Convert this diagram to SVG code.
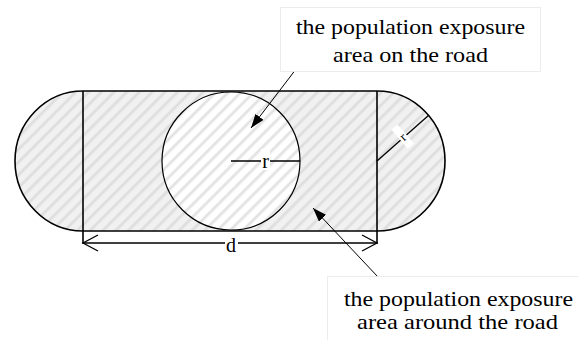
<svg xmlns="http://www.w3.org/2000/svg" width="578" height="340" viewBox="0 0 578 340">
<style>
.txt{font-family:"Liberation Serif","DejaVu Serif",serif;fill:#000;}
.lbl{font-size:21px;text-anchor:middle;}
.ln{stroke:#000;fill:none;}
.box{fill:#fff;stroke:#ececec;stroke-width:1;}
</style>
<defs>
<pattern id="hatchGray" patternUnits="userSpaceOnUse" width="9" height="9" patternTransform="rotate(-45)">
<rect width="9" height="9" fill="#f1f1f1"/>
<rect x="0" y="0" width="9" height="3.4" fill="#e6e6e6"/>
<rect x="0" y="0.9" width="9" height="1.6" fill="#dcdcdc"/>
</pattern>
<pattern id="hatchWhite" patternUnits="userSpaceOnUse" width="9" height="9" patternTransform="rotate(-45)">
<rect width="9" height="9" fill="#ffffff"/>
<rect x="0" y="0" width="9" height="3.4" fill="#eeeeee"/>
<rect x="0" y="0.9" width="9" height="1.6" fill="#e0e0e0"/>
</pattern>
<marker id="arrowFill" markerWidth="14" markerHeight="10" refX="14" refY="5" orient="auto" markerUnits="userSpaceOnUse">
<path d="M0,0 L14,5 L0,10 Z" fill="#000"/>
</marker>
</defs>

<g id="road-surround">
<path d="M83,91 H377 A68,70 0 0 1 377,231 H83 A68,70 0 0 1 83,91 Z" fill="url(#hatchGray)" stroke="#000" stroke-width="1.6"/>
</g>

<g id="road-circle">
<circle cx="231" cy="161" r="69" fill="url(#hatchWhite)" stroke="#000" stroke-width="1.2"/>
</g>

<g id="connectors">
<line class="ln" x1="83" y1="91" x2="83" y2="244" stroke-width="1.6"/>
<line class="ln" x1="377" y1="91" x2="377" y2="244" stroke-width="1.6"/>
<line class="ln" x1="83" y1="243" x2="377" y2="243" stroke-width="1.3"/>
<polyline class="ln" points="98,235 83,243 98,251" stroke-width="1.3"/>
<polyline class="ln" points="362,235 377,243 362,251" stroke-width="1.3"/>
<line class="ln" x1="231" y1="161" x2="300" y2="161" stroke-width="1.3"/>
<line class="ln" x1="377" y1="161" x2="429" y2="115" stroke-width="1.3"/>
<line class="ln" x1="306" y1="56" x2="251" y2="128" stroke-width="1" marker-end="url(#arrowFill)"/>
<line class="ln" x1="378" y1="277" x2="313" y2="208" stroke-width="1" marker-end="url(#arrowFill)"/>
</g>

<g id="label-r-circle">
<rect x="261" y="149" width="9" height="21" fill="#fff"/>
<text class="txt" x="265.5" y="168" font-family="Liberation Serif, serif" font-size="20" text-anchor="middle">r</text>
</g>

<g id="label-r-cap">
<g transform="translate(403,137) rotate(-41)">
<rect x="-4" y="-13" width="8" height="25" fill="#fff"/>
<text class="txt" x="0" y="4" font-family="Liberation Serif, serif" font-size="13" text-anchor="middle">r</text>
</g>
</g>

<g id="label-d">
<rect x="225" y="236" width="13" height="18" fill="#fff"/>
<text class="txt" x="231" y="252" font-family="Liberation Serif, serif" font-size="20" text-anchor="middle">d</text>
</g>

<g id="label-on-road">
<rect class="box" x="280.5" y="7.5" width="260" height="64"/>
<text class="txt lbl" x="410.5" y="34" font-family="Liberation Serif, serif" textLength="229" lengthAdjust="spacingAndGlyphs">the population exposure</text>
<text class="txt lbl" x="410.5" y="62" font-family="Liberation Serif, serif" textLength="155" lengthAdjust="spacingAndGlyphs">area on the road</text>
</g>

<g id="label-around-road">
<rect class="box" x="327.5" y="276.5" width="270" height="80"/>
<text class="txt lbl" x="458.5" y="306" font-family="Liberation Serif, serif" textLength="229" lengthAdjust="spacingAndGlyphs">the population exposure</text>
<text class="txt lbl" x="457.5" y="329" font-family="Liberation Serif, serif" textLength="201" lengthAdjust="spacingAndGlyphs">area around the road</text>
</g>
</svg>
